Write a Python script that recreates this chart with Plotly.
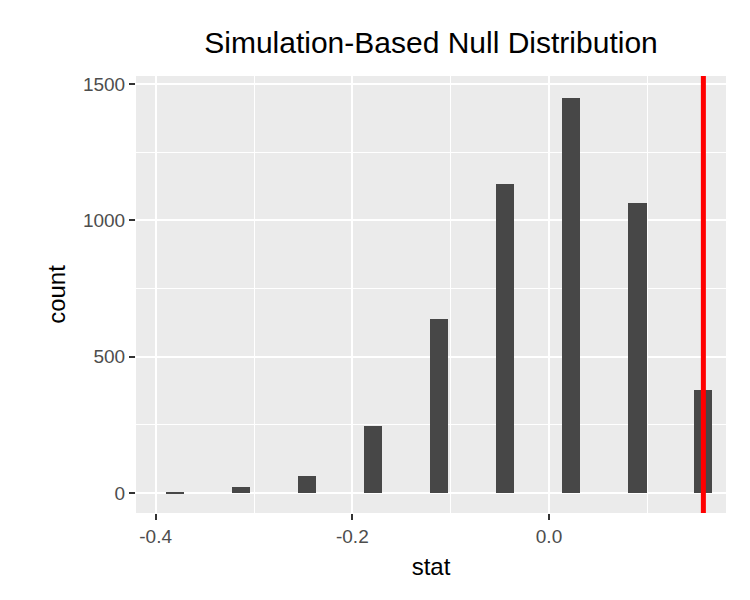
import plotly.graph_objects as go

# bin centres and counts
stat_centers = [-0.380, -0.313, -0.246, -0.179, -0.112, -0.045, 0.022, 0.090, 0.157]
counts = [3, 22, 62, 245, 640, 1132, 1450, 1062, 378]
observed_stat = 0.157
x_ticks = [-0.4, -0.2, 0.0]
x_labels = ["-0.4", "-0.2", "0.0"]
y_ticks = [0, 500, 1000, 1500]

fig = go.Figure()
fig.add_trace(go.Bar(x=stat_centers, y=counts, width=0.0185,
                     marker_color="#474747", marker_line_width=0, showlegend=False))
fig.add_shape(type="line", x0=observed_stat, x1=observed_stat, y0=0, y1=1,
              yref="paper", line=dict(color="#FF0000", width=5))

axis_common = dict(showgrid=True, gridcolor="white", gridwidth=2.2,
                   ticks="outside", ticklen=6, tickwidth=1.5, tickcolor="#333333",
                   tickfont=dict(size=19, color="#4D4D4D"), zeroline=False,
                   showline=False)

fig.update_layout(
    width=750, height=600,
    paper_bgcolor="white", plot_bgcolor="#EBEBEB",
    font=dict(family="Liberation Sans, Arial, sans-serif", color="black"),
    margin=dict(l=128, r=32, t=68, b=95),
    title=dict(text="Simulation-Based Null Distribution", xref="paper", x=0.5,
               xanchor="center", yref="container", y=0.942, yanchor="middle",
               font=dict(size=30)),
    xaxis=dict(axis_common, range=[-0.420, 0.180], tickvals=x_ticks, ticktext=x_labels,
               title=dict(text="stat", font=dict(size=24), standoff=12),
               minor=dict(showgrid=True, gridcolor="white", gridwidth=1,
                          tickvals=[-0.3, -0.1, 0.1])),
    yaxis=dict(axis_common, range=[-73, 1529], tickvals=y_ticks,
               title=dict(text="count", font=dict(size=24), standoff=10),
               minor=dict(showgrid=True, gridcolor="white", gridwidth=1,
                          tickvals=[250, 750, 1250])),
    bargap=0,
)

fig.write_html("out.html")
